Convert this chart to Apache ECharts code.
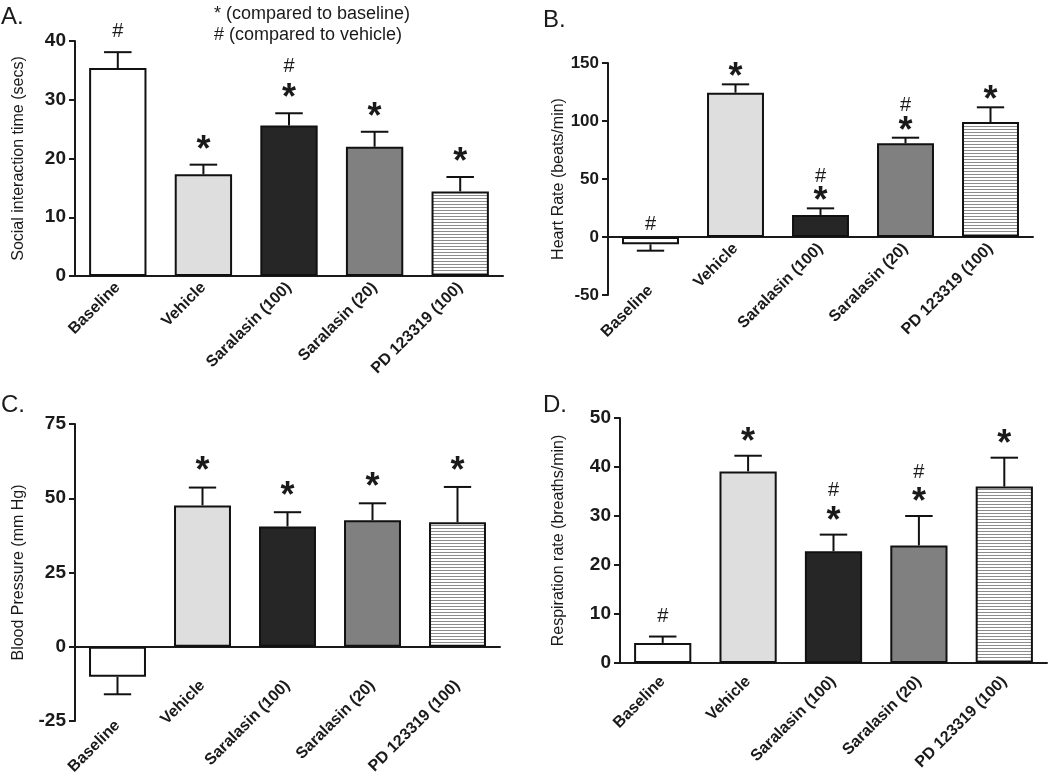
<!DOCTYPE html>
<html><head><meta charset="utf-8">
<script src="https://cdn.jsdelivr.net/npm/echarts@6/dist/echarts.min.js"></script>
<style>html,body{margin:0;padding:0;background:#fff}#c{width:1050px;height:776px}</style>
</head><body><div id="c"></div>
<script>
const categories = ['Baseline', 'Vehicle', 'Saralasin (100)', 'Saralasin (20)', 'PD 123319 (100)'];

const socialMeans = [35.4, 17.3, 25.6, 22.0, 14.4];
const socialErr   = [2.7, 1.65, 2.1, 2.55, 2.45];
const socialMarks = ['#', '*', '*#', '*', '*'];
const socialTicks = [0, 10, 20, 30, 40];

const heartMeans = [-6.3, 124.4, 19.0, 80.8, 99.1];
const heartErr   = [5.5, 7.2, 5.7, 4.8, 12.7];
const heartMarks = ['#', '*', '*#', '*#', '*'];
const heartTicks = [-50, 0, 50, 100, 150];

const bpMeans = [-10.1, 47.6, 40.5, 42.6, 41.9];
const bpErr   = [5.9, 6.0, 4.8, 5.7, 11.9];
const bpMarks = ['', '*', '*', '*', '*'];
const bpTicks = [-25, 0, 25, 50, 75];

const respMeans = [4.1, 39.1, 22.8, 24.0, 36.0];
const respErr   = [1.3, 3.2, 3.4, 6.0, 5.9];
const respMarks = ['#', '*', '*#', '*#', '*'];
const respTicks = [0, 10, 20, 30, 40, 50];

const FONT = '"Liberation Sans", Arial, Helvetica, sans-serif';

// stripe pattern
const pc = document.createElement('canvas');
pc.width = 4; pc.height = 3;
const pctx = pc.getContext('2d');
pctx.fillStyle = '#ffffff'; pctx.fillRect(0, 0, 4, 3);
pctx.fillStyle = '#8c8c8c'; pctx.fillRect(0, 0, 4, 1);
const fills = ['#ffffff', '#dedede', '#262626', '#808080', { image: pc, repeat: 'repeat' }];

const panels = [
  { means: socialMeans, err: socialErr, marks: socialMarks, ticks: socialTicks, name: 'Social interaction time (secs)',
    grid: { left: 75, right: 547, top: 41, bottom: 500 }, nameGap: 48, tickSize: 19, labelMargin: 9, baseShift: 0,
    first: 21, gap: 26 },
  { means: heartMeans, err: heartErr, marks: heartMarks, ticks: heartTicks, name: 'Heart Rate (beats/min)',
    grid: { left: 608, right: 17, top: 63, bottom: 481 }, nameGap: 40, tickSize: 17, labelMargin: -49, baseShift: 42,
    first: 13, gap: 19 },
  { means: bpMeans, err: bpErr, marks: bpMarks, ticks: bpTicks, name: 'Blood Pressure (mm Hg)',
    grid: { left: 75, right: 550, top: 424, bottom: 55 }, nameGap: 48, tickSize: 19, labelMargin: -38, baseShift: 40,
    first: 22, gap: 24 },
  { means: respMeans, err: respErr, marks: respMarks, ticks: respTicks, name: 'Respiration rate (breaths/min)',
    grid: { left: 620, right: 3, top: 418, bottom: 113 }, nameGap: 53, tickSize: 19, labelMargin: 16, baseShift: 0,
    first: 20, gap: 24 }
];

const grids = [], xAxes = [], yAxes = [], series = [];
panels.forEach((p, k) => {
  grids.push(Object.assign({ containLabel: false, outerBoundsMode: 'none' }, p.grid));
  const sh = p.baseShift;
  xAxes.push({
    type: 'category', gridIndex: k, data: categories,
    axisLine: { lineStyle: { color: '#1a1a1a', width: 2 } },
    axisTick: { show: false },
    axisLabel: {
      rotate: 45, interval: 0, margin: p.labelMargin,
      color: '#1a1a1a', fontFamily: FONT, fontWeight: 'bold', fontSize: 16,
      formatter: (v, i) => (i === 0 && sh) ? '{s|' + v + '}' : v,
      rich: { s: { fontFamily: FONT, fontWeight: 'bold', fontSize: 16, color: '#1a1a1a',
        padding: [sh * 1.414, sh * 0.707, 0, 0] } }
    }
  });
  yAxes.push({
    type: 'value', gridIndex: k,
    min: p.ticks[0], max: p.ticks[p.ticks.length - 1], interval: p.ticks[1] - p.ticks[0],
    splitLine: { show: false },
    axisLine: { show: true, onZero: false, lineStyle: { color: '#1a1a1a', width: 2 } },
    axisTick: { show: true, length: 6, lineStyle: { color: '#1a1a1a', width: 2 } },
    axisLabel: { color: '#1a1a1a', fontFamily: FONT, fontWeight: 'bold', fontSize: p.tickSize, margin: 9 },
    name: p.name, nameLocation: 'middle', nameGap: p.nameGap,
    nameTextStyle: { color: '#1a1a1a', fontFamily: FONT, fontSize: 16 }
  });
  series.push({
    type: 'bar', xAxisIndex: k, yAxisIndex: k, barWidth: '67%',
    data: p.means.map((v, i) => ({ value: v, itemStyle: { color: fills[i] } })),
    itemStyle: { borderColor: '#111', borderWidth: 2 },
    animation: false, silent: true
  });
  const marks = p.marks, first = p.first, gap = p.gap;
  series.push({
    type: 'custom', xAxisIndex: k, yAxisIndex: k, clip: false, animation: false, silent: true,
    encode: { x: 0, y: 1 },
    data: p.means.map((v, i) => [i, v, p.err[i]]),
    renderItem: (params, api) => {
      const idx = api.value(0), v = api.value(1), e = api.value(2);
      const end = v >= 0 ? v + e : v - e;
      const p0 = api.coord([idx, v]);
      const p1 = api.coord([idx, end]);
      const bw = api.size([1, 0])[0] * 0.67;
      const cap = bw * 0.48;
      const style = { stroke: '#111', lineWidth: 2 };
      const children = [
        { type: 'line', shape: { x1: p0[0], y1: p0[1], x2: p1[0], y2: p1[1] }, style },
        { type: 'line', shape: { x1: p1[0] - cap / 2, y1: p1[1], x2: p1[0] + cap / 2, y2: p1[1] }, style }
      ];
      const baseY = v >= 0 ? p1[1] : api.coord([idx, 0])[1];
      const m = marks[params.dataIndex] || '';
      for (let j = 0; j < m.length; j++) {
        const ch = m[j];
        const y = baseY - first - j * gap;
        const isStar = ch === '*';
        children.push({
          type: 'text',
          style: {
            text: ch, x: p1[0], y: isStar ? y + 7 : y,
            align: 'center', verticalAlign: 'middle',
            fontFamily: FONT, fontWeight: isStar ? 'bold' : 'normal',
            fontSize: isStar ? 36 : 20, fill: '#1a1a1a'
          }
        });
      }
      return { type: 'group', children };
    }
  });
});

const letter = (t, x, y) => ({ type: 'text', left: x, top: y,
  style: { text: t, fontFamily: FONT, fontSize: 24, fill: '#1a1a1a' } });

const chart = echarts.init(document.getElementById('c'), null, { renderer: 'canvas' });
chart.setOption({
  backgroundColor: '#ffffff',
  animation: false,
  grid: grids, xAxis: xAxes, yAxis: yAxes, series,
  graphic: [
    letter('A.', 1, 5), letter('B.', 543, 8), letter('C.', 1, 393), letter('D.', 543, 393),
    { type: 'text', left: 214, top: 5, style: { text: '* (compared to baseline)', fontFamily: FONT, fontSize: 18, fill: '#1a1a1a' } },
    { type: 'text', left: 214, top: 26, style: { text: '# (compared to vehicle)', fontFamily: FONT, fontSize: 18, fill: '#1a1a1a' } }
  ]
});
</script></body></html>
